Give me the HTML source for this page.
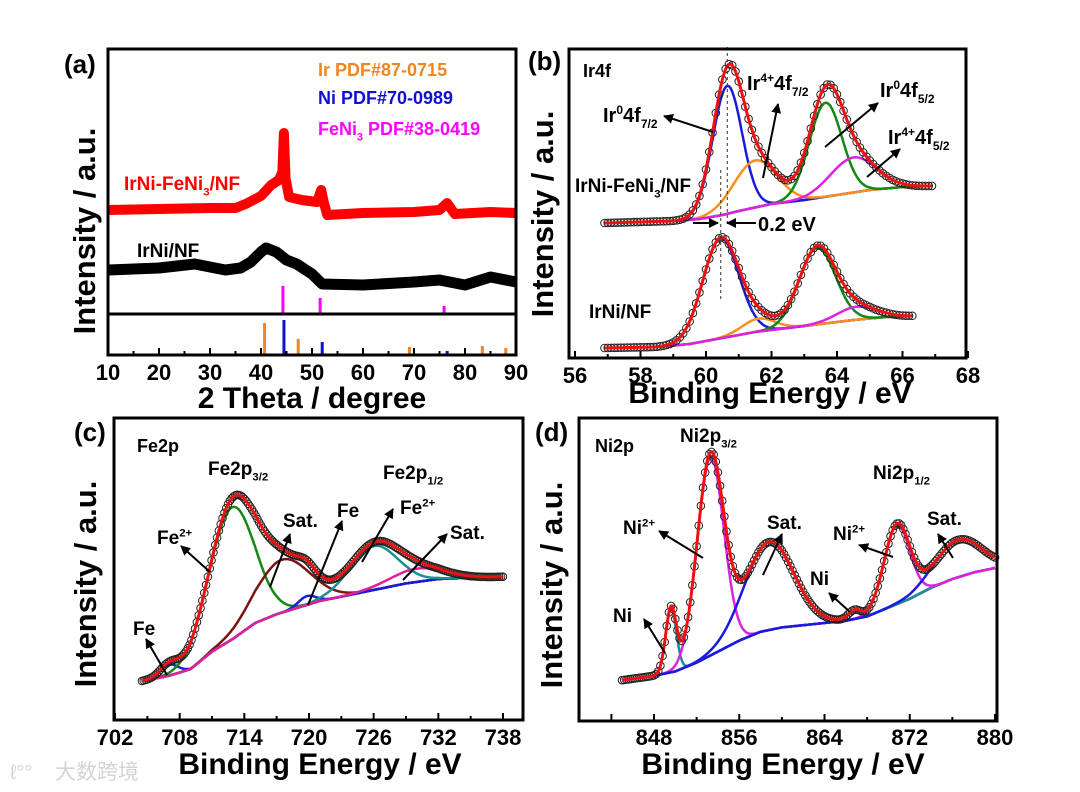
<!DOCTYPE html>
<html><head><meta charset="utf-8"><style>
html,body{margin:0;padding:0;background:#fff;}
svg{display:block;font-family:"Liberation Sans","Noto Sans CJK SC",sans-serif;font-weight:bold;}
</style></head><body>
<svg id="fig" width="1080" height="792" viewBox="0 0 1080 792" xmlns="http://www.w3.org/2000/svg">
<defs><marker id="ah" viewBox="0 0 10 10" refX="9" refY="5" markerWidth="5" markerHeight="5" orient="auto"><path d="M0,0 L10,5 L0,10 z" fill="#000"/></marker></defs>
<text x="10" y="779" font-size="20" fill="#d4d4d4" font-weight="normal">ℓ°°</text>
<text x="55" y="779" font-size="21" fill="#d4d4d4" font-weight="normal">大数跨境</text>
<g id="ga"></g>
<g id="gb"></g>
<g id="gc"></g>
<g id="gd"></g>
</svg>
<script>
// ---------- Panel (a) XRD data ----------
const xrdRedTheta=[10,20,30,35,37,40,42,43.5,44.2,44.5,44.8,45.5,48,51,51.8,52.3,53,60,70,75,76.5,78,85,90];
const xrdRedI=[90,91,92,92,96,104,115,120,128,167,122,103,100,98,110,98,85,87,88,90,97,86,88,87];
const xrdBlkTheta=[10,20,27,33,36,38,40,41,43,45,47,50,52,60,70,75,80,85,90];
const xrdBlkI=[30,32,36,30,32,38,48,52,48,40,36,26,16,15,18,20,15,23,18];
const feni3Pos=[44.3,51.6,75.9];
const feni3H=[28,16,8];
const irPos=[40.7,47.3,69.1,83.4,88];
const irH=[32,16,8,9,7];
const niPos=[44.5,52,76.5];
const niH=[35,13,4];
const xrdTicks=[10,20,30,40,50,60,70,80,90];

// ---------- Panel (b) Ir4f ----------
const bTopBgE=[56.9,59,59.8,60.5,61,62,63,64,65,66,66.9];
const bTopBgI=[127,129,131,135,139,146,150,155,160,163,164];
const bTopC=[60.65,61.5,63.65,64.5];
const bTopH=[128,47,94,35];
const bTopW=[0.45,0.65,0.5,0.7];
const bBotBgE=[56.9,58.5,59.5,60.5,61.5,62.5,63.5,64.5,65.5,66.3];
const bBotBgI=[2,3,6,12,18,22,26,30,33,34];
const bBotC=[60.45,61.6,63.4,64.6];
const bBotH=[100,13,77,13];
const bBotW=[0.55,0.5,0.55,0.6];
const bTicks=[56,58,60,62,64,66,68];

// ---------- Panel (c) Fe2p ----------
const cBgE=[704.5,707,709,711,713,715,717,719,721,723,726,729,732,738];
const cBgI=[8.6,11,14,22,28,35,39,42,45,47,50,53,55,56];
const cC=[707,712.8,717.5,719.8,726,730];
const cH=[5,60,24,4,20,6];
const cW=[0.8,2.1,2.5,0.8,2.2,2.5];
const cTicks=[702,708,714,720,726,732,738];

// ---------- Panel (d) Ni2p ----------
const dBgE=[845,848,850,852,854,856,858,860,862,864,866,868,870,872,874,876,878,880];
const dBgI=[9,11,13,17,22,27,31,33,34,35,36,38,42,46,51,55,58,60];
const dC=[849.6,853.3,858.8,866.8,870.8,876.5];
const dH=[29,90,40,4,36,17];
const dW=[0.5,1.25,2.3,0.6,1.2,2.2];
const dTicks=[848,856,864,872,880];

const NS="http://www.w3.org/2000/svg";
function mk(parent,tag,attrs){const e=document.createElementNS(NS,tag);for(const k in attrs)e.setAttribute(k,attrs[k]);parent.appendChild(e);return e;}
function lin(d0,d1,r0,r1){return v=>r0+(v-d0)*(r1-r0)/(d1-d0);}
function interp(xs,ys,x){if(x<=xs[0])return ys[0];for(let i=1;i<xs.length;i++){if(x<=xs[i]){const t=(x-xs[i-1])/(xs[i]-xs[i-1]);return ys[i-1]+t*(ys[i]-ys[i-1]);}}return ys[ys.length-1];}
function gauss(x,c,h,w){return h*Math.exp(-0.5*((x-c)/w)**2);}
function txt(g,x,y,s,size,fill,anchor,name){
  const t=mk(g,'text',{x:x,y:y,'font-size':size,fill:fill||'#000','text-anchor':anchor||'start'});
  
  
  const parts=Array.isArray(s)?s:[[s,0]];
  parts.forEach(p=>{const ts=mk(t,'tspan',{});ts.textContent=p[0];if(p[1]===1){ts.setAttribute('font-size',size*0.6);ts.setAttribute('dy',size*0.3);}else if(p[1]===-1){ts.setAttribute('font-size',size*0.6);ts.setAttribute('dy',-size*0.4);}
   if(p[2])ts.setAttribute('dy',p[2]);});
  return t;}
function arrow(g,x1,y1,x2,y2,name){const l=mk(g,'line',{x1:x1,y1:y1,x2:x2,y2:y2,stroke:'#000','stroke-width':2,'marker-end':'url(#ah)'});
  }
function box(g,x0,y0,x1,y1,name){const r=mk(g,'rect',{x:x0,y:y0,width:x1-x0,height:y1-y0,fill:'none',stroke:'#000','stroke-width':3});}
function ticks(g,X,ticksArr,minorStep,yb,labY,name,skipFirstLabel){
  const lo=ticksArr[0],hi=ticksArr[ticksArr.length-1];
  for(let v=lo;v<=hi+1e-9;v+=minorStep){const major=ticksArr.some(t=>Math.abs(t-v)<1e-6);
    const l=mk(g,'line',{x1:X(v),x2:X(v),y1:yb,y2:yb-(major?7:4),stroke:'#000','stroke-width':2});
    }
  ticksArr.forEach((t,i)=>{if(skipFirstLabel&&i===0)return;txt(g,X(t),labY,String(t),22,'#000','middle',name+'-label-'+t);});}
function path(g,pts,color,w,name){const d=pts.map((p,i)=>(i?'L':'M')+p[0].toFixed(1)+','+p[1].toFixed(1)).join('');
  const e=mk(g,'path',{d:d,fill:'none',stroke:color,'stroke-width':w,'stroke-linejoin':'round'});return e;}
function ytitle(g,x,y,name){const t=txt(g,0,0,'Intensity / a.u.',31,'#000','middle',name);t.setAttribute('transform','translate('+x+','+y+') rotate(-90)');}

// ===== Panel a =====
(function(){
 const g=document.getElementById('ga');
 const X=lin(10,90,108,516);
 const Y=I=>300-I;
 const Yl=v=>355-v;
 path(g,xrdBlkTheta.map((t,i)=>[X(t),Y(xrdBlkI[i])]),'#000',11,'irni-nf-pattern');
 path(g,xrdRedTheta.map((t,i)=>[X(t),Y(xrdRedI[i])]),'#ff0000',10,'irni-feni3-pattern');
 feni3Pos.forEach((p,i)=>{const l=mk(g,'line',{x1:X(p),x2:X(p),y1:314,y2:314-feni3H[i],stroke:'#ff00ff','stroke-width':3});});
 irPos.forEach((p,i)=>{const l=mk(g,'line',{x1:X(p),x2:X(p),y1:355,y2:Yl(irH[i]),stroke:'#f0861f','stroke-width':3});});
 niPos.forEach((p,i)=>{const l=mk(g,'line',{x1:X(p),x2:X(p),y1:355,y2:Yl(niH[i]),stroke:'#1010d0','stroke-width':3});});
 const s=mk(g,'line',{x1:108,x2:516,y1:314,y2:314,stroke:'#000','stroke-width':3});
 box(g,108,49,516,355,'panel-a-frame');
 ticks(g,X,xrdTicks,5,355,380,'x-axis-a');
 txt(g,312,408,'2 Theta / degree',30,'#000','middle','x-axis-title-a');
 ytitle(g,95,231,'y-axis-title-a');
 txt(g,64,73,'(a)',26,'#000','start','panel-label-a');
 txt(g,318,76,'Ir PDF#87-0715',18,'#f0861f','start','legend-ir');
 txt(g,318,104,'Ni PDF#70-0989',18,'#1010d0','start','legend-ni');
 txt(g,318,135,[['FeNi',0],['3',1],[' PDF#38-0419',0,-5.4]],18,'#ff00ff','start','legend-feni3');
 txt(g,124,190,[['IrNi-FeNi',0],['3',1],['/NF',0,-5.7]],19,'#ff0000','start','label-irni-feni3');
 txt(g,137,257,'IrNi/NF',19,'#000','start','label-irni');
})();

// generic XPS renderer
function xps(g,X,Y,bgE,bgI,C,H,W,colors,bgColor,e0,e1,step,namePrefix){
 const N=Math.round((e1-e0)/0.05);
 const E=[];for(let i=0;i<=N;i++)E.push(e0+i*(e1-e0)/N);
 const bg=E.map(e=>interp(bgE,bgI,e));
 path(g,E.map((e,i)=>[X(e),Y(bg[i])]),bgColor,2.5,namePrefix+'-background');
 C.forEach((_,k)=>{
  path(g,E.map((e,i)=>[X(e),Y(bg[i]+gauss(e,C[k],H[k],W[k]))]),colors[k],2.5,namePrefix+'-component-'+k);});
 const tot=e=>interp(bgE,bgI,e)+C.reduce((s,c,k)=>s+gauss(e,c,H[k],W[k]),0);
 for(let e=e0;e<=e1+1e-9;e+=step){const c=mk(g,'circle',{cx:X(e),cy:Y(tot(e)),r:3.8,fill:'none',stroke:'#222','stroke-width':1});
  }
 path(g,E.map(e=>[X(e),Y(tot(e))]),'#ee1111',3,namePrefix+'-fit-envelope');
}

// ===== Panel b =====
(function(){
 const g=document.getElementById('gb');
 const X=lin(56,68,575,968);
 const Y=I=>350-I;
 const cols=['#1a1adf','#f5901e','#128a12','#e020e0'];
 xps(g,X,Y,bBotBgE,bBotBgI,bBotC,bBotH,bBotW,cols,'#9a3cc8',56.9,66.3,0.1,'irni');
 xps(g,X,Y,bTopBgE,bTopBgI,bTopC,bTopH,bTopW,cols,'#9a3cc8',56.9,66.9,0.1,'irni-feni3');
 [[bTopC[0],47,223],[bBotC[0],170,300]].forEach(d=>{const l=mk(g,'line',{x1:X(d[0]),x2:X(d[0]),y1:d[1],y2:d[2],stroke:'#333','stroke-width':1,'stroke-dasharray':'3,3'});});
 box(g,569,49,966,358,'panel-b-frame');
 ticks(g,X,bTicks,1,358,383,'x-axis-b');
 txt(g,770,403,'Binding Energy / eV',30,'#000','middle','x-axis-title-b');
 ytitle(g,553,214,'y-axis-title-b');
 txt(g,528,70,'(b)',26,'#000','start','panel-label-b');
 txt(g,583,77,'Ir4f',18,'#000','start','core-level-label-b');
 txt(g,603,122,[['Ir',0],['0',-1],['4f',0,8],['7/2',1]],20,'#000','start','label-ir0-4f72');
 txt(g,747,90,[['Ir',0],['4+',-1],['4f',0,8],['7/2',1]],20,'#000','start','label-ir4-4f72');
 txt(g,880,97,[['Ir',0],['0',-1],['4f',0,8],['5/2',1]],20,'#000','start','label-ir0-4f52');
 txt(g,888,144,[['Ir',0],['4+',-1],['4f',0,8],['5/2',1]],20,'#000','start','label-ir4-4f52');
 txt(g,575,192,[['IrNi-FeNi',0],['3',1],['/NF',0,-5.7]],19,'#000','start','label-irni-feni3-b');
 txt(g,758,231,'0.2 eV',20,'#000','start','shift-label');
 txt(g,589,318,'IrNi/NF',19,'#000','start','label-irni-b');
 arrow(g,713,132,664,116,'arrow-ir0-4f72');
 arrow(g,763,178,778,104,'arrow-ir4-4f72');
 arrow(g,825,147,878,103,'arrow-ir0-4f52');
 arrow(g,867,177,900,149,'arrow-ir4-4f52');
 arrow(g,693,223,718,223,'arrow-shift-left');
 arrow(g,756,223,727,223,'arrow-shift-right');
})();

// ===== Panel c =====
(function(){
 const g=document.getElementById('gc');
 const X=lin(702,738,115,503);
 const Y=I=>700-I*2.2;
 const cols=['#1a1adf','#128a12','#7a1414','#1a1adf','#1a9090','#e0209a'];
 xps(g,X,Y,cBgE,cBgI,cC,cH,cW,cols,'#e0209a',704.5,738,0.17,'fe2p');
 box(g,114,418,523,720,'panel-c-frame');
 ticks(g,X,cTicks,3,720,745,'x-axis-c');
 txt(g,320,774,'Binding Energy / eV',30,'#000','middle','x-axis-title-c');
 ytitle(g,96,584,'y-axis-title-c');
 txt(g,74,441,'(c)',26,'#000','start','panel-label-c');
 txt(g,137,452,'Fe2p',18,'#000','start','core-level-label-c');
 txt(g,208,475,[['Fe2p',0],['3/2',1]],19,'#000','start','label-fe2p32');
 txt(g,383,479,[['Fe2p',0],['1/2',1]],19,'#000','start','label-fe2p12');
 txt(g,157,544,[['Fe',0],['2+',-1]],19,'#000','start','label-fe2-a');
 txt(g,283,527,'Sat.',19,'#000','start','label-sat-a');
 txt(g,337,517,'Fe',19,'#000','start','label-fe-b');
 txt(g,400,514,[['Fe',0],['2+',-1]],19,'#000','start','label-fe2-b');
 txt(g,450,539,'Sat.',19,'#000','start','label-sat-b');
 txt(g,133,635,'Fe',19,'#000','start','label-fe-a');
 arrow(g,210,572,181,546,'arrow-fe2-a');
 arrow(g,270,587,290,534,'arrow-sat-a');
 arrow(g,308,605,342,521,'arrow-fe-b');
 arrow(g,362,562,393,509,'arrow-fe2-b');
 arrow(g,403,580,447,534,'arrow-sat-b');
 arrow(g,167,675,146,639,'arrow-fe-a');
})();

// ===== Panel d =====
(function(){
 const g=document.getElementById('gd');
 const X=lin(848,880,654,995);
 const Y=I=>700-I*2.2;
 const cols=['#1a9090','#e020e0','#1a1adf','#1a9090','#e020e0','#1a1adf'];
 xps(g,X,Y,dBgE,dBgI,dC,dH,dW,cols,'#1a9090',845,880,0.2,'ni2p');
 box(g,579,418,997,721,'panel-d-frame');
 ticks(g,X,[844].concat(dTicks),4,721,745,'x-axis-d',true);
 txt(g,783,774,'Binding Energy / eV',30,'#000','middle','x-axis-title-d');
 ytitle(g,562,585,'y-axis-title-d');
 txt(g,535,441,'(d)',26,'#000','start','panel-label-d');
 txt(g,595,452,'Ni2p',18,'#000','start','core-level-label-d');
 txt(g,680,442,[['Ni2p',0],['3/2',1]],19,'#000','start','label-ni2p32');
 txt(g,873,479,[['Ni2p',0],['1/2',1]],19,'#000','start','label-ni2p12');
 txt(g,623,534,[['Ni',0],['2+',-1]],19,'#000','start','label-ni2-a');
 txt(g,767,529,'Sat.',19,'#000','start','label-sat-c');
 txt(g,833,540,[['Ni',0],['2+',-1]],19,'#000','start','label-ni2-b');
 txt(g,927,525,'Sat.',19,'#000','start','label-sat-d');
 txt(g,810,585,'Ni',19,'#000','start','label-ni-b');
 txt(g,613,622,'Ni',19,'#000','start','label-ni-a');
 arrow(g,703,558,659,531,'arrow-ni2-a');
 arrow(g,763,575,782,534,'arrow-sat-c');
 arrow(g,893,557,859,545,'arrow-ni2-b');
 arrow(g,953,558,938,534,'arrow-sat-d');
 arrow(g,850,612,829,593,'arrow-ni-b');
 arrow(g,665,653,644,619,'arrow-ni-a');
})();
</script>
</body></html>
